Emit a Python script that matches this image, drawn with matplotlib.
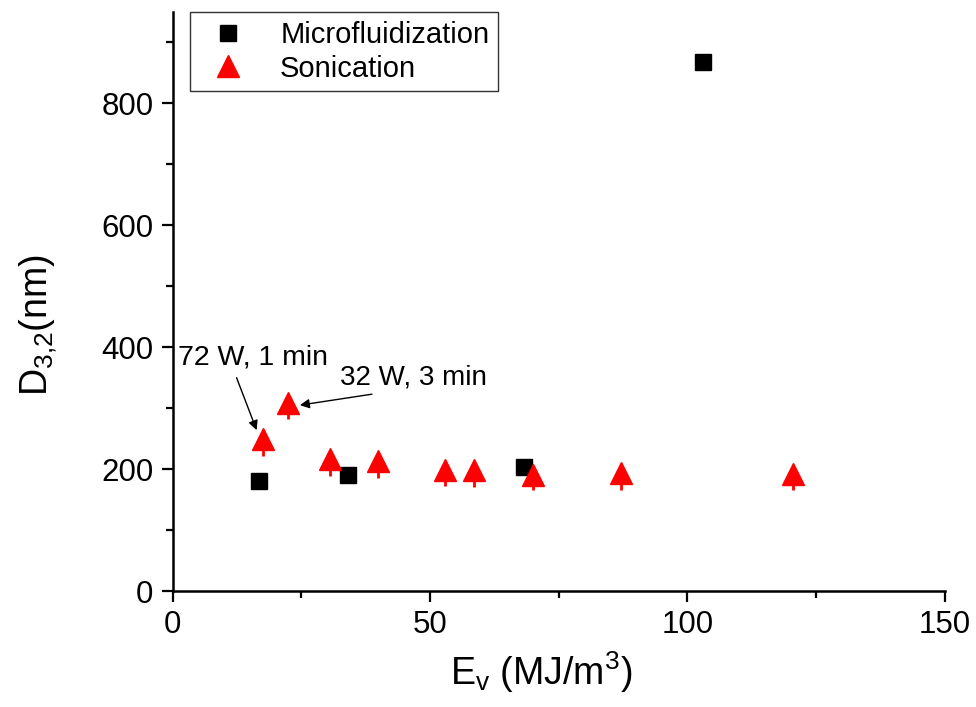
import matplotlib
matplotlib.use("Agg")
import matplotlib.pyplot as plt

plt.rcParams['font.family'] = ['Liberation Sans', 'DejaVu Sans']
plt.rcParams['mathtext.fontset'] = 'custom'
plt.rcParams['mathtext.rm'] = 'Liberation Sans'
plt.rcParams['mathtext.it'] = 'Liberation Sans'

# Microfluidization data
micro_ev = [16.7, 34.0, 68.2, 103.0]
micro_d = [181, 191, 203, 868]

# Sonication data
sono_ev = [17.5, 22.3, 30.5, 39.8, 52.8, 58.5, 70.0, 87.0, 120.5]
sono_d = [250, 309, 217, 214, 199, 198, 191, 193, 192]
sono_err = [29, 27, 29, 29, 27, 27, 25, 27, 27]

fig = plt.figure(figsize=(9.76, 7.07), dpi=100)
ax = fig.add_axes([0.177, 0.164, 0.791, 0.819])

ax.plot(micro_ev, micro_d, 's', color='black', markersize=11.5,
        label='Microfluidization', zorder=3)
# error bars (upper half is hidden under the triangle)
ax.errorbar(sono_ev, sono_d, yerr=[sono_err, [0] * len(sono_err)], fmt='none',
            ecolor='red', elinewidth=2, capsize=0, zorder=4)
ax.plot(sono_ev, sono_d, '^', color='red', markersize=16,
        label='Sonication', zorder=5)

ax.set_xlim(0, 150)
ax.set_ylim(0, 950)
ax.set_xticks([0, 50, 100, 150])
ax.set_xticks([25, 75, 125], minor=True)
ax.set_yticks([0, 200, 400, 600, 800])
ax.set_yticks([100, 300, 500, 700, 900], minor=True)

for s in ['top', 'right']:
    ax.spines[s].set_visible(False)
for s in ['left', 'bottom']:
    ax.spines[s].set_linewidth(1.8)
ax.tick_params(which='major', direction='out', length=8, width=1.6,
               labelsize=22.5, pad=6)
ax.tick_params(which='minor', direction='out', length=5, width=1.6)

ax.set_xlabel(r'E$_\mathregular{v}$ (MJ/m$^\mathregular{3}$)', fontsize=27)
ax.set_ylabel(r'D$_\mathregular{3{,}2}$(nm)', fontsize=27)
ax.xaxis.set_label_coords(0.477, -0.14)
ax.xaxis.label.set_va('center')
ax.yaxis.set_label_coords(-0.175, 0.46)
ax.yaxis.label.set_va('center')

# annotations
ax.text(1.0, 383, '72 W, 1 min', fontsize=20.5, va='center', ha='left')
ax.annotate('', xy=(16.3, 264), xytext=(12.4, 350),
            arrowprops=dict(arrowstyle='-|>', color='black', lw=1,
                            mutation_scale=14, shrinkA=0, shrinkB=0))
ax.text(32.4, 350, '32 W, 3 min', fontsize=20, va='center', ha='left')
ax.annotate('', xy=(24.7, 305), xytext=(38.7, 323),
            arrowprops=dict(arrowstyle='-|>', color='black', lw=1,
                            mutation_scale=14, shrinkA=0, shrinkB=0))

leg = ax.legend(loc='upper left', bbox_to_anchor=(0.022, 1.0), borderaxespad=0,
                fontsize=21, frameon=True, fancybox=False, handletextpad=0.8,
                borderpad=0.3, labelspacing=0.2)
leg.get_frame().set_edgecolor('black')
leg.get_frame().set_linewidth(1)

plt.savefig('out.png', dpi=100)
